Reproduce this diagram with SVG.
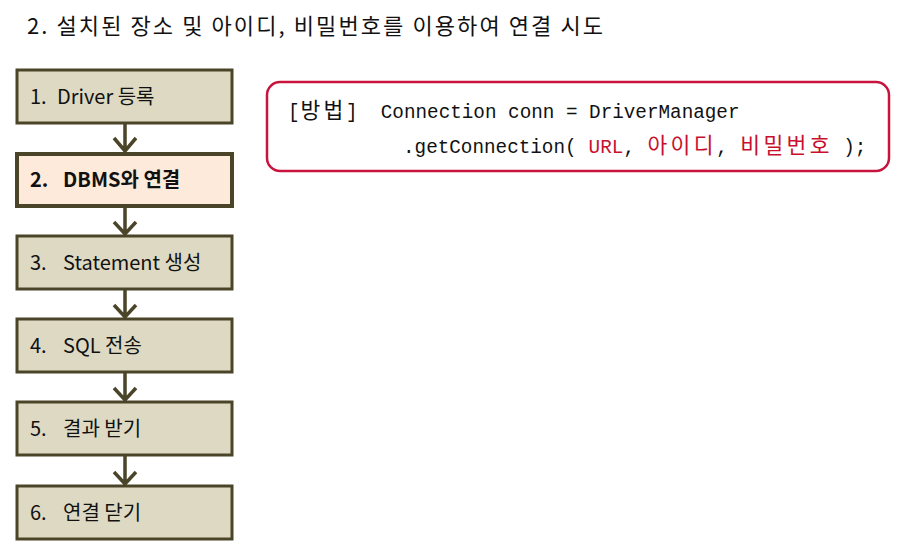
<svg xmlns="http://www.w3.org/2000/svg" width="906" height="549" viewBox="0 0 906 549">
<style>
.box{fill:#DDD9C3;stroke:#4A4428;stroke-width:3}
.box2{fill:#FDEADA;stroke:#4A4428;stroke-width:4}
.lbl{font-family:"Noto Sans CJK KR","Noto Sans",sans-serif;font-size:20px;fill:#111}
.conn{fill:none;stroke:#4A4428;stroke-width:3.5}
.code{font-family:"Liberation Mono","Noto Sans CJK KR",monospace;font-size:19.3px;fill:#111}
.ko{font-family:"Noto Sans CJK KR",sans-serif;font-size:21.5px}
.red{fill:#C8102E}
</style>
<rect width="906" height="549" fill="#fff"/>
<text x="27" y="34" font-family="Noto Sans CJK KR, sans-serif" font-size="22" fill="#111" textLength="576" lengthAdjust="spacing">2.  설치된 장소 및 아이디, 비밀번호를 이용하여 연결 시도</text>

<g id="connectors">
<path class="conn" d="M125 123V152M114 138L125 151L136 138"/>
<path class="conn" d="M125 207V235M114 222L125 234L136 222"/>
<path class="conn" d="M125 289V318M114 305L125 317L136 305"/>
<path class="conn" d="M125 372V401M114 388L125 400L136 388"/>
<path class="conn" d="M125 455V485M114 472L125 484L136 472"/>
</g>

<g id="n1"><rect class="box" x="17" y="70" width="215" height="53"/><text class="lbl" x="30" y="104">1.<tspan x="57">Driver 등록</tspan></text></g>
<g id="n2"><rect class="box2" x="17" y="154" width="215" height="52"/><text class="lbl" x="30" y="187" font-weight="bold">2.<tspan x="63">DBMS와 연결</tspan></text></g>
<g id="n3"><rect class="box" x="17" y="236" width="215" height="53"/><text class="lbl" x="30" y="270">3.<tspan x="63">Statement 생성</tspan></text></g>
<g id="n4"><rect class="box" x="17" y="319" width="215" height="53"/><text class="lbl" x="30" y="353">4.<tspan x="63">SQL 전송</tspan></text></g>
<g id="n5"><rect class="box" x="17" y="402" width="215" height="53"/><text class="lbl" x="30" y="436">5.<tspan x="63">결과 받기</tspan></text></g>
<g id="n6"><rect class="box" x="17" y="486" width="215" height="53"/><text class="lbl" x="30" y="520">6.<tspan x="63">연결 닫기</tspan></text></g>

<g id="code">
<rect x="267" y="82" width="622" height="89" rx="13" fill="#fff" stroke="#C8143C" stroke-width="2.5"/>
<text class="code" y="118"><tspan x="288">[</tspan><tspan class="ko" x="300.4 323.6">방법</tspan><tspan x="346">]</tspan><tspan x="380.8">Connection conn = DriverManager</tspan></text>
<text class="code" y="153"><tspan x="403">.getConnection(</tspan><tspan class="red" x="588.6">URL</tspan><tspan x="623.4">,</tspan><tspan class="ko red" x="647.4 670.6 693.8">아이디</tspan><tspan x="716.2">,</tspan><tspan class="ko red" x="740.2 763.4 786.6 809.8">비밀번호</tspan><tspan x="843.2">);</tspan></text>
</g>
</svg>
